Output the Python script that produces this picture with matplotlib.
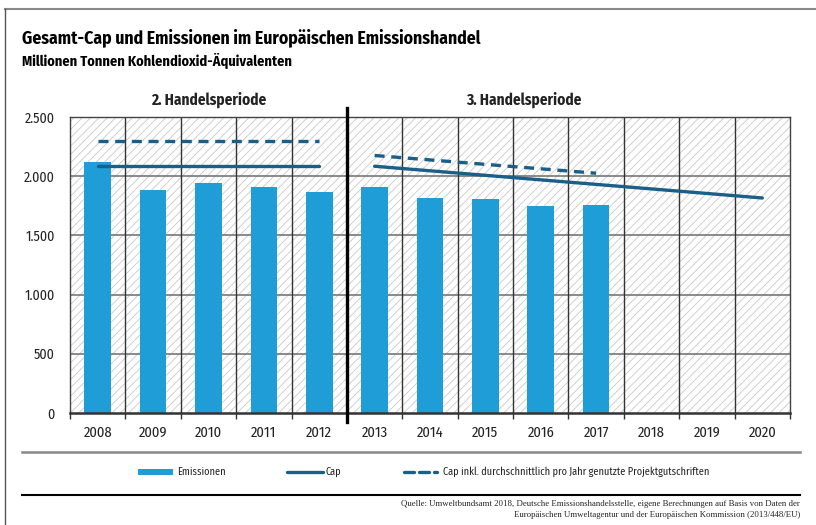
import matplotlib
matplotlib.use("Agg")
import matplotlib.pyplot as plt
from matplotlib.patches import Rectangle
from matplotlib.lines import Line2D
from matplotlib import font_manager as fm

names = {f.name for f in fm.fontManager.ttflist}
SANS = "Fira Sans Condensed" if "Fira Sans Condensed" in names else "DejaVu Sans"
plt.rcParams['font.family'] = [SANS, 'DejaVu Sans']
plt.rcParams['hatch.linewidth'] = 0.6

years = ["2008", "2009", "2010", "2011", "2012", "2013", "2014",
         "2015", "2016", "2017", "2018", "2019", "2020"]
emissions = [2120, 1880, 1940, 1905, 1865, 1905, 1815, 1805, 1750, 1755]
cap2_years = ["2008", "2012"]
cap2 = [2085, 2085]
cap2_proj = [2295, 2295]
cap3_years = ["2013", "2020"]
cap3 = [2084, 1816]
cap3_proj_years = ["2013", "2017"]
cap3_proj = [2175, 2025]
yticks = [0, 500, 1000, 1500, 2000, 2500]
ytick_labels = ["0", "500", "1.000", "1.500", "2.000", "2.500"]

BAR = "#1f9dd6"
CAP = "#1a5f87"
TXT = "#222222"

fig = plt.figure(figsize=(8.16, 5.25), dpi=100)
ax = fig.add_axes([70/816, 1-413/525, 720/816, 296/525])

xi = {y: i for i, y in enumerate(years)}
n = len(years)
ax.set_xlim(-0.5, n - 0.5)
ax.set_ylim(0, 2500)

# hatched background
ax.add_patch(Rectangle((-0.5, 0), n, 2500, facecolor="white", edgecolor="#c8c8c8",
                       hatch="////", linewidth=0, zorder=0))

# grid
for v in yticks[1:-1]:
    ax.axhline(v, color="#777777", lw=1.2, zorder=1)
for b in range(1, n):
    ax.axvline(b - 0.5, color="#333333", lw=1.0, zorder=1)

ax.bar([xi[y] for y in years[:len(emissions)]], emissions, width=0.48, color=BAR, zorder=3)

ax.plot([xi[y] for y in cap2_years], cap2, color=CAP, lw=2.4, solid_capstyle="round", zorder=4)
ax.plot([xi[y] for y in cap2_years], cap2_proj, color=CAP, lw=2.4, ls=(0, (3, 2)), zorder=4)
ax.plot([xi[y] for y in cap3_years], cap3, color=CAP, lw=2.4, solid_capstyle="round", zorder=4)
ax.plot([xi[y] for y in cap3_proj_years], cap3_proj, color=CAP, lw=2.4, ls=(0, (3, 2)), zorder=4)

# separator
ax.add_line(Line2D([4.5, 4.5], [-0.03, 1.03], transform=ax.get_xaxis_transform(),
                   color="black", lw=2.4, clip_on=False, zorder=6))

for s in ["top", "right", "left"]:
    ax.spines[s].set_color("#444444")
    ax.spines[s].set_linewidth(1.0)
ax.spines["bottom"].set_color("#333333")
ax.spines["bottom"].set_linewidth(1.8)
for s in ax.spines.values():
    s.set_zorder(5)

ax.set_yticks(yticks)
ax.set_yticklabels(ytick_labels, fontsize=10, color=TXT)
ax.tick_params(axis="y", length=0, pad=11)

ax.set_xticks([b - 0.5 for b in range(n + 1)])
ax.set_xticklabels([])
ax.tick_params(axis="x", which="major", length=4, width=1, color="#333333", direction="out")
ax.set_xticks(list(range(n)), minor=True)
ax.set_xticklabels(years, minor=True, fontsize=10.5, color=TXT)
ax.tick_params(axis="x", which="minor", length=0, pad=9)

ax.text(2, 2575, "2. Handelsperiode", ha="center", va="bottom", fontsize=11,
        fontweight="bold", color=TXT)
ax.text(7.7, 2575, "3. Handelsperiode", ha="center", va="bottom", fontsize=11,
        fontweight="bold", color=TXT)

# titles
fig.text(22/816, 1-38/525, "Gesamt-Cap und Emissionen im Europäischen Emissionshandel",
         fontsize=12.7, fontweight="bold", va="center", ha="left", color="black")
fig.text(22/816, 1-60/525, "Millionen Tonnen Kohlendioxid-Äquivalenten",
         fontsize=10.3, fontweight="bold", va="center", ha="left", color="black")

# frame lines of figure
fig.add_artist(Line2D([5/816, 1.0], [1-9/525, 1-9/525], color="#888888", lw=1.5))
fig.add_artist(Line2D([5/816, 5/816], [1-9/525, 0], color="#555555", lw=1.0))
fig.add_artist(Line2D([22/816, 800/816], [1-452/525, 1-452/525], color="#888888", lw=1.8))
fig.add_artist(Line2D([22/816, 800/816], [1-495/525, 1-495/525], color="black", lw=1.5))

# legend
ly = 1 - 472/525
fig.add_artist(Rectangle((138/816, ly - 3/525), 35/816, 6/525, facecolor=BAR, edgecolor="none",
                         transform=fig.transFigure))
fig.text(177/816, ly, "Emissionen", fontsize=7.4, va="center", ha="left", color=TXT)
fig.add_artist(Line2D([287/816, 323/816], [ly, ly], color=CAP, lw=2.4, solid_capstyle="round"))
fig.text(326/816, ly, "Cap", fontsize=7.4, va="center", ha="left", color=TXT)
fig.add_artist(Line2D([404/816, 437/816], [ly, ly], color=CAP, lw=2.4,
                      ls=(0, (3, 1.5)), dash_capstyle="round"))
fig.text(443/816, ly, "Cap inkl. durchschnittlich pro Jahr genutzte Projektgutschriften",
         fontsize=7.4, va="center", ha="left", color=TXT)

fig.text(800/816, 1-504/525,
         "Quelle: Umweltbundsamt 2018, Deutsche Emissionshandelsstelle, eigene Berechnungen auf Basis von Daten der",
         fontsize=6.3, family=["Liberation Serif", "DejaVu Serif"], ha="right", va="center", color=TXT)
fig.text(800/816, 1-515/525,
         "Europäischen Umweltagentur und der Europäischen Kommission (2013/448/EU)",
         fontsize=6.3, family=["Liberation Serif", "DejaVu Serif"], ha="right", va="center", color=TXT)

fig.savefig("out.png", dpi=100)
